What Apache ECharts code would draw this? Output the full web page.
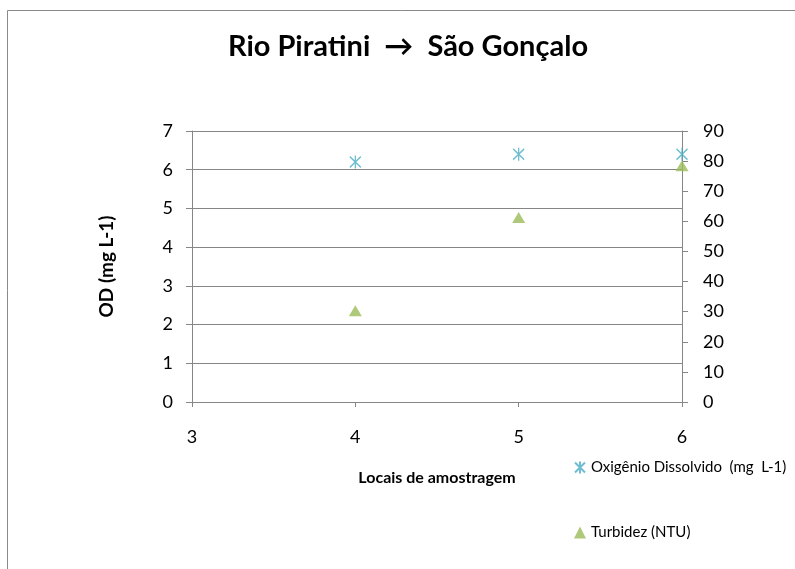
<!DOCTYPE html>
<html>
<head>
<meta charset="utf-8">
<script src="https://cdn.jsdelivr.net/npm/echarts@6/dist/echarts.min.js"></script>
<style>
  html, body { margin: 0; padding: 0; background: #fff; }
  #chart { width: 795px; height: 569px; }
</style>
</head>
<body>
<div id="chart"></div>
<script>
// Sampling sites (x) and measured values
const locais = [4, 5, 6];
const oxigenio = [6.2, 6.4, 6.4];     // OD (mg L-1), left axis
const turbidez = [30.3, 61.3, 78.5];  // Turbidez (NTU), right axis

const xTicks = [3, 4, 5, 6];
const odTicks = [0, 1, 2, 3, 4, 5, 6, 7];
const ntuTicks = [0, 10, 20, 30, 40, 50, 60, 70, 80, 90];

const FONT = 'Lato, "Open Sans", sans-serif';
const GRAY = '#868686';
const OD_COLOR = '#4BACC6';
const NTU_COLOR = '#9BBB59';

// asterisk-shaped marker: an X with a vertical stroke
const starPath = 'path://M0,1L10,11M10,1L0,11M5,0L5,12';

const chart = echarts.init(document.getElementById('chart'));
chart.setOption({
  animation: false,
  backgroundColor: '#fff',
  textStyle: { fontFamily: FONT, color: '#000' },
  title: {
    text: 'Rio Piratini  \u2192  S\u00e3o Gon\u00e7alo',
    left: 403, top: 27, textAlign: 'center',
    textStyle: { fontFamily: FONT, fontSize: 29, fontWeight: 'bold', color: '#000' }
  },
  graphic: [{
    type: 'rect', silent: true, z: -1,
    shape: { x: 7.5, y: 10.5, width: 820, height: 600 },
    style: { fill: 'none', stroke: '#8a8a8a', lineWidth: 1 }
  }],
  grid: { left: 192, right: 113, top: 131, bottom: 167, containLabel: false },
  legend: {
    orient: 'vertical',
    left: 569, top: 455,
    itemGap: 50, itemWidth: 12, itemHeight: 12,
    textStyle: { fontFamily: FONT, fontSize: 15, color: '#000' },
    data: [
      { name: 'Oxig\u00eanio Dissolvido  (mg  L-1)', icon: starPath },
      { name: 'Turbidez (NTU)', icon: 'triangle' }
    ]
  },
  xAxis: {
    type: 'value', min: xTicks[0], max: xTicks[xTicks.length - 1], interval: 1,
    name: 'Locais de amostragem', nameLocation: 'middle', nameGap: 68,
    nameTextStyle: { fontFamily: FONT, fontSize: 16, fontWeight: 'bold', color: '#000' },
    axisLine: { show: true, onZero: false, lineStyle: { color: GRAY } },
    axisTick: { show: true, length: 5, lineStyle: { color: GRAY } },
    axisLabel: { fontFamily: FONT, fontSize: 18, color: '#000', margin: 26 },
    splitLine: { show: false }
  },
  yAxis: [{
    type: 'value', position: 'left', min: odTicks[0], max: odTicks[odTicks.length - 1], interval: 1,
    name: 'OD (mg L-1)', nameLocation: 'middle', nameGap: 76, nameRotate: 90,
    nameTextStyle: { fontFamily: FONT, fontSize: 19, fontWeight: 'bold', color: '#000' },
    axisLine: { show: true, lineStyle: { color: GRAY } },
    axisTick: { show: true, length: 6, lineStyle: { color: GRAY } },
    axisLabel: { fontFamily: FONT, fontSize: 18, color: '#000', margin: 19 },
    splitLine: { show: true, lineStyle: { color: GRAY, width: 1 } }
  }, {
    type: 'value', position: 'right', min: ntuTicks[0], max: ntuTicks[ntuTicks.length - 1], interval: 10,
    axisLine: { show: true, lineStyle: { color: GRAY } },
    axisTick: { show: true, length: 6, lineStyle: { color: GRAY } },
    axisLabel: { fontFamily: FONT, fontSize: 18, color: '#000', margin: 21 },
    splitLine: { show: false }
  }],
  series: [{
    name: 'Oxig\u00eanio Dissolvido  (mg  L-1)',
    type: 'scatter', yAxisIndex: 0,
    symbol: starPath, symbolSize: [11, 13],
    itemStyle: { color: 'rgba(0,0,0,0)', borderColor: OD_COLOR, borderWidth: 1.4 },
    data: locais.map((x, i) => [x, oxigenio[i]]),
    clip: false, z: 3
  }, {
    name: 'Turbidez (NTU)',
    type: 'scatter', yAxisIndex: 1,
    symbol: 'triangle', symbolSize: [13, 11],
    itemStyle: { color: NTU_COLOR },
    data: locais.map((x, i) => [x, turbidez[i]]),
    clip: false, z: 2
  }]
});
</script>
</body>
</html>
